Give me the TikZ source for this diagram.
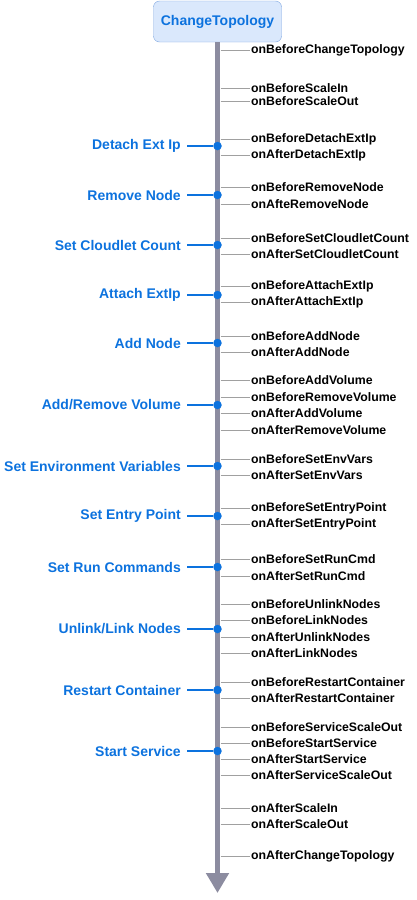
\documentclass[tikz,border=0pt]{standalone}
\usepackage{fontspec}
\setmainfont{Liberation Sans}
\usetikzlibrary{arrows.meta}
\definecolor{actblue}{HTML}{0C72DE}
\definecolor{boxfill}{HTML}{DAE8FC}
\definecolor{boxline}{HTML}{7EA6E0}
\definecolor{bargray}{HTML}{8C8CA0}
\definecolor{hookgray}{HTML}{A0A0A0}

\begin{document}
\begin{tikzpicture}[x=1pt,y=-1pt]
            \tikzset{event/.style = {anchor=west, inner sep=0pt, font=\fontsize{12.3}{14}\selectfont\bfseries}}
            \tikzset{action/.style = {anchor=east, inner sep=0pt, text=actblue, font=\fontsize{14}{16}\selectfont\bfseries}}
            \tikzset{dot/.style = {circle, fill=actblue, inner sep=0pt, minimum size=8.5pt}}
            \tikzset{hook/.style = {draw=hookgray, line width=1pt, shorten >=1pt}}
            \tikzset{link/.style = {draw=actblue, line width=2.5pt, shorten <=6pt}}
            \tikzset{timeline/.style = {draw=bargray, line width=5.5pt, -{Triangle[width=22pt,length=20pt]}}}
            \useasboundingbox (0,0) rectangle (417,900);
            % start box
            \node[draw=boxline, fill=boxfill, rounded corners=6pt, minimum width=128pt, minimum height=41pt,
                  text=actblue, font=\fontsize{14}{16}\selectfont\bfseries] (start) at (217.5,21.5) {ChangeTopology};
            \coordinate (end) at (217.5,893);
            % events
            \foreach \y/\name [count=\i] in {50/onBeforeChangeTopology, 88/onBeforeScaleIn, 101/onBeforeScaleOut,
                139/onBeforeDetachExtIp, 155/onAfterDetachExtIp, 187/onBeforeRemoveNode, 204/onAfteRemoveNode,
                238/onBeforeSetCloudletCount, 254/onAfterSetCloudletCount, 286/onBeforeAttachExtIp, 302/onAfterAttachExtIp,
                336/onBeforeAddNode, 352/onAfterAddNode, 380/onBeforeAddVolume, 397/onBeforeRemoveVolume,
                413/onAfterAddVolume, 430/onAfterRemoveVolume, 459/onBeforeSetEnvVars, 475/onAfterSetEnvVars,
                508/onBeforeSetEntryPoint, 524/onAfterSetEntryPoint, 559/onBeforeSetRunCmd, 576/onAfterSetRunCmd,
                604/onBeforeUnlinkNodes, 620/onBeforeLinkNodes, 637/onAfterUnlinkNodes, 653/onAfterLinkNodes,
                682/onBeforeRestartContainer, 698/onAfterRestartContainer, 727/onBeforeServiceScaleOut,
                743/onBeforeStartService, 759/onAfterStartService, 775/onAfterServiceScaleOut,
                808/onAfterScaleIn, 824/onAfterScaleOut, 856/onAfterChangeTopology} {
                \coordinate (b\i) at (220.5,\y);
                \node[event] (e\i) at (251,\y) {\name};
                \draw[hook] (b\i) -- (e\i);
            }
            % timeline
            \draw[timeline] (start) -- (end);
            % actions
            \foreach \y/\name [count=\i] in {146/{Detach Ext Ip}, 195/{Remove Node}, 245/{Set Cloudlet Count},
                295/{Attach ExtIp}, 343/{Add Node}, 405/{Add/Remove Volume}, 466/{Set Environment Variables},
                516/{Set Entry Point}, 567/{Set Run Commands}, 629/{Unlink/Link Nodes}, 690/{Restart Container},
                751/{Start Service}} {
                \node[action] (a\i) at (181,\y) {\name};
                \node[dot] (d\i) at (217.5,\y) {};
                \draw[link] (a\i) -- (d\i);
            }
        \end{tikzpicture}
\end{document}
